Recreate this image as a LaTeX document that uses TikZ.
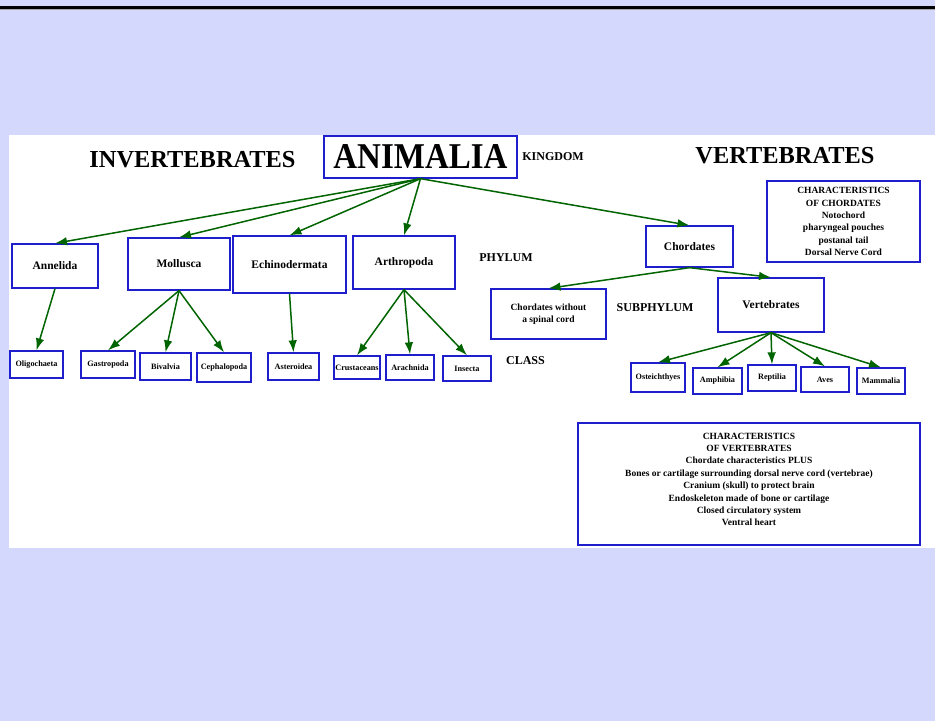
\documentclass[tikz,border=0pt]{standalone}
\usepackage{fontspec}
\setmainfont{Liberation Serif}
\usetikzlibrary{arrows.meta}
\definecolor{bgcol}{RGB}{213,216,253}
\definecolor{boxblue}{RGB}{30,30,205}
\definecolor{arrgreen}{RGB}{0,100,0}
\newcommand{\fsz}[2]{\fontsize{#1}{#2}\selectfont\bfseries}
\tikzset{
  box/.style={draw=boxblue, line width=1.3pt, fill=white, inner sep=0pt, align=center, font=\fsz{11.5}{13}},
  cbox/.style={box, font=\fsz{8.2}{9}},
  tbox/.style={box, font=\fsz{9.5}{12.4}},
  lvl/.style={inner sep=0pt, font=\fsz{12}{14}},
  big/.style={inner sep=0pt, font=\fsz{24.4}{28}},
  link/.style={draw=arrgreen, line width=1.5pt, -{Latex[length=12pt,width=8.5pt]}}
}
\begin{document}
\begin{tikzpicture}[x=1pt,y=-1pt]
\useasboundingbox (0,0) rectangle (935,721);
\fill[bgcol] (0,0) rectangle (935,721);
\fill[black] (0,6) rectangle (935,9.3);
\fill[gray!70] (0,9.3) rectangle (935,10.3);
\fill[white] (9,135) rectangle (935,548);

% titles and level labels
\node[big] (invert) at (192.5,160) {INVERTEBRATES};
\node[big] (vert) at (785,155.5) {VERTEBRATES};
\node[lvl] (kingdom) at (553,157) {KINGDOM};
\node[lvl] (phylum) at (506,258) {PHYLUM};
\node[lvl] (subphylum) at (655,308) {SUBPHYLUM};
\node[lvl] (class) at (525.5,361) {CLASS};

% kingdom
\node[box, minimum width=193pt, minimum height=42pt, font=\fsz{33}{36}] (animalia) at (420.5,157) {\scalebox{1}[1.1]{ANIMALIA}};

% phyla
\node[box, minimum width=86pt, minimum height=44pt] (annelida) at (55,266) {Annelida};
\node[box, minimum width=102pt, minimum height=52pt] (mollusca) at (179,264) {Mollusca};
\node[box, minimum width=113pt, minimum height=57pt] (echino) at (289.5,264.5) {Echinodermata};
\node[box, minimum width=102pt, minimum height=53pt] (arthro) at (404,262.5) {Arthropoda};
\node[box, minimum width=87pt, minimum height=41pt] (chordates) at (689.5,246.5) {Chordates};

% subphyla
\node[tbox, minimum width=115pt, minimum height=50pt] (chordwo) at (548.5,314) {Chordates without\\a spinal cord};
\node[box, minimum width=106pt, minimum height=54pt] (vertebrates) at (771,305) {Vertebrates};

% classes
\node[cbox, minimum width=53pt, minimum height=27pt] (oligo) at (36.5,364.5) {Oligochaeta};
\node[cbox, minimum width=54pt, minimum height=27pt] (gastro) at (108,364.5) {Gastropoda};
\node[cbox, minimum width=51pt, minimum height=27pt] (bival) at (165.5,366.5) {Bivalvia};
\node[cbox, minimum width=54pt, minimum height=29pt] (cephal) at (224,367.5) {Cephalopoda};
\node[cbox, minimum width=51pt, minimum height=27pt] (aster) at (293.5,366.5) {Asteroidea};
\node[cbox, minimum width=46pt, minimum height=23pt] (crust) at (357,367.5) {Crustaceans};
\node[cbox, minimum width=48pt, minimum height=25pt] (arach) at (410,367.5) {Arachnida};
\node[cbox, minimum width=48pt, minimum height=25pt] (insecta) at (467,368.5) {Insecta};
\node[cbox, minimum width=54pt, minimum height=29pt] (osteich) at (658,377.5) {Osteichthyes};
\node[cbox, minimum width=49pt, minimum height=26pt] (amphib) at (717.5,381) {Amphibia};
\node[cbox, minimum width=48pt, minimum height=26pt] (reptil) at (772,378) {Reptilia};
\node[cbox, minimum width=48pt, minimum height=25pt] (aves) at (825,379.5) {Aves};
\node[cbox, minimum width=48pt, minimum height=26pt] (mamm) at (881,381) {Mammalia};

% characteristics
\node[tbox, minimum width=153pt, minimum height=81pt] (charchord) at (843.5,221.5)
  {CHARACTERISTICS\\OF CHORDATES\\Notochord\\pharyngeal pouches\\postanal tail\\Dorsal Nerve Cord};
\node[tbox, minimum width=342pt, minimum height=122pt] (charvert) at (749,484)
  {CHARACTERISTICS\\OF VERTEBRATES\\Chordate characteristics PLUS\\Bones or cartilage surrounding dorsal nerve cord (vertebrae)\\Cranium (skull) to protect brain\\Endoskeleton made of bone or cartilage\\Closed circulatory system\\Ventral heart\\[-3pt]};

% connectors
\foreach \c in {annelida,mollusca,echino,arthro,chordates}
  \draw[link] (animalia.south) -- (\c.north);
\draw[link] (chordates.south) -- (chordwo.north);
\draw[link] (chordates.south) -- (vertebrates.north);
\draw[link] (annelida.south) -- (oligo.north);
\foreach \c in {gastro,bival,cephal}
  \draw[link] (mollusca.south) -- (\c.north);
\draw[link] (echino.south) -- (aster.north);
\foreach \c in {crust,arach,insecta}
  \draw[link] (arthro.south) -- (\c.north);
\foreach \c in {osteich,amphib,reptil,aves,mamm}
  \draw[link] (vertebrates.south) -- (\c.north);
\end{tikzpicture}
\end{document}
